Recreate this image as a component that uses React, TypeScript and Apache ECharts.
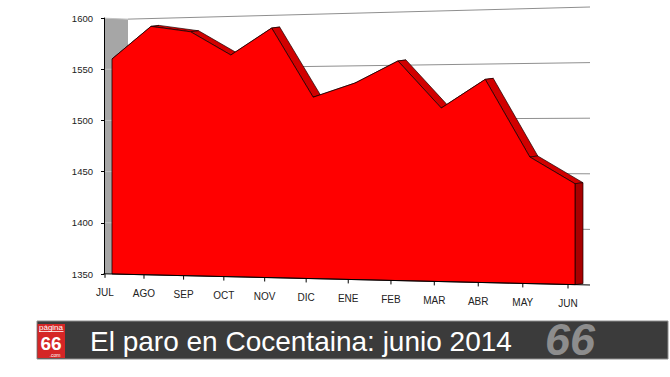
import React, { useEffect, useRef } from "react";
import * as echarts from "echarts";

const months = ["JUL", "AGO", "SEP", "OCT", "NOV", "DIC", "ENE", "FEB", "MAR", "ABR", "MAY", "JUN"];
const paro = [1560, 1591, 1585, 1562, 1587, 1521, 1534, 1554, 1510, 1536, 1465, 1441];
const yTicks = [1350, 1400, 1450, 1500, 1550, 1600];
const titleText = "El paro en Cocentaina: junio 2014";
const logoTop = "página";
const logoMid = "66";
const logoBottom = ".com";
const brandText = "66";

const FONT = "'Liberation Sans', Arial, Helvetica, sans-serif";

export default function App() {
  const ref = useRef<HTMLDivElement>(null);

  useEffect(() => {
    const chart = echarts.init(ref.current as HTMLDivElement, null, { renderer: "svg" });

    const DX = 8;
    const DY = -1;
    const SLOPE = 0.023;

    const renderItem = (params: any, api: any) => {
      if (params.dataIndex !== 0) return null;
      const n = months.length;
      const a = api.coord([0, yTicks[0]]);
      const b = api.coord([n - 1, yTicks[yTicks.length - 1]]);
      const xL = a[0], xR = b[0], yB = a[1], yT = b[1];
      const span = xR - xL;
      const warpX = (px: number) => {
        const t = (px - xL) / span;
        return xL + span * (0.919 * t + 0.081 * t * t);
      };
      const plane = (x: number, f: number) => {
        const base = yB + SLOPE * (x - xL);
        const top = yT - SLOPE * (x - xL);
        return base - f * (base - top);
      };
      const frac = (v: number) => (yB - api.coord([0, v])[1]) / (yB - yT);
      const proj = (idx: number, v: number) => {
        const c = api.coord([idx, v]);
        const x = warpX(c[0]);
        const f = (yB - c[1]) / (yB - yT);
        return [x, plane(x, f)];
      };

      const wallL = xL - 7.5;
      const wallR = xL + 16;
      const gridEnd = xR + 15;
      const children: any[] = [];

      // left side wall
      children.push({
        type: "polygon",
        shape: {
          points: [
            [wallL, plane(wallL, 1)],
            [wallR, plane(wallR, 1) + 1.5],
            [wallR, plane(wallR, 0)],
            [wallL, plane(wallL, 0)],
          ],
        },
        style: { fill: "#a6a6a6" },
      });

      // gridlines
      yTicks.forEach((v, i) => {
        if (i === 0) return;
        const f = frac(v);
        const dip = i === yTicks.length - 1 ? 1.5 : 0;
        children.push({
          type: "line",
          shape: { x1: wallL, y1: plane(wallL, f), x2: wallR, y2: plane(wallR, f) + dip },
          style: { stroke: "#c4c4c4", lineWidth: 1 },
        });
        children.push({
          type: "line",
          shape: { x1: wallR, y1: plane(wallR, f) + dip, x2: gridEnd, y2: plane(gridEnd, f) },
          style: { stroke: "#8f8f8f", lineWidth: 1 },
        });
      });

      const front = paro.map((v, i) => proj(i, v));
      const back = front.map((p) => [p[0] + DX, p[1] + DY]);

      // top surfaces
      for (let j = 0; j < n - 1; j++) {
        children.push({
          type: "polygon",
          shape: { points: [front[j], front[j + 1], back[j + 1], back[j]] },
          style: { fill: "#d10000", stroke: "#1a0000", lineWidth: 0.7, lineJoin: "round" },
        });
      }

      // right side face
      const fl = front[n - 1];
      const flb = [fl[0], plane(fl[0], 0)];
      children.push({
        type: "polygon",
        shape: { points: [fl, back[n - 1], [flb[0] + DX, flb[1] + DY], flb] },
        style: { fill: "#a80000", stroke: "#1a0000", lineWidth: 0.7 },
      });

      // front face
      const f0 = front[0];
      children.push({
        type: "polygon",
        shape: { points: [...front, flb, [f0[0], plane(f0[0], 0)]] },
        style: { fill: "#ff0000", stroke: "#1a0000", lineWidth: 0.8, lineJoin: "round" },
      });

      // bottom axis line
      children.push({
        type: "line",
        shape: { x1: wallL - 1, y1: plane(wallL - 1, 0), x2: gridEnd, y2: plane(gridEnd, 0) },
        style: { stroke: "#000", lineWidth: 1 },
      });

      // x ticks & labels
      months.forEach((m, i) => {
        const x = warpX(api.coord([i, yTicks[0]])[0]) - 7;
        const y = plane(x, 0);
        children.push({
          type: "line",
          shape: { x1: x, y1: y, x2: x, y2: y + 4 },
          style: { stroke: "#000", lineWidth: 1 },
        });
        children.push({
          type: "text",
          style: {
            text: m,
            x: x,
            y: y + 19,
            fill: "#222222",
            fontSize: 10,
            fontFamily: FONT,
            align: "center",
            verticalAlign: "middle",
            textAlign: "center",
            textVerticalAlign: "middle",
          },
        });
      });

      return { type: "group", children };
    };

    const option: any = {
      animation: false,
      backgroundColor: "#ffffff",
      grid: { left: 112, right: 95, top: 18, bottom: 103 },
      xAxis: {
        type: "category",
        data: months,
        boundaryGap: false,
        show: false,
      },
      yAxis: {
        type: "value",
        min: 1350,
        max: 1600,
        interval: 50,
        offset: 8,
        axisLine: { show: true, lineStyle: { color: "#000", width: 1 } },
        axisTick: { show: true, length: 3, lineStyle: { color: "#000" } },
        axisLabel: {
          color: "#222222",
          fontSize: 9.5,
          fontFamily: FONT,
          margin: 11,
          formatter: (v: number) => String(v),
        },
        splitLine: { show: false },
        z: 5,
      },
      series: [
        {
          type: "custom",
          coordinateSystem: "cartesian2d",
          data: paro.map((v, i) => [i, v]),
          renderItem,
          clip: false,
          silent: true,
        },
      ],
      graphic: [
        {
          type: "rect",
          shape: { x: 37, y: 321, width: 631, height: 38 },
          style: { fill: "#3b3b3b", stroke: "#8e8e8e", lineWidth: 1 },
        },
        {
          type: "rect",
          shape: { x: 37.5, y: 324, width: 27.5, height: 34 },
          style: { fill: "#d52626" },
        },
        {
          type: "text",
          style: {
            text: logoTop, x: 51, y: 327.5, fill: "#fff", fontSize: 8, fontFamily: FONT,
            align: "center", verticalAlign: "middle", textAlign: "center", textVerticalAlign: "middle",
          },
        },
        {
          type: "line",
          shape: { x1: 39, y1: 331.5, x2: 63.5, y2: 331.5 },
          style: { stroke: "#ffffff", lineWidth: 0.8 },
        },
        {
          type: "text",
          style: {
            text: logoMid, x: 51, y: 343, fill: "#fff", fontSize: 19, fontWeight: "bold", fontFamily: FONT,
            align: "center", verticalAlign: "middle", textAlign: "center", textVerticalAlign: "middle",
          },
        },
        {
          type: "text",
          style: {
            text: logoBottom, x: 55, y: 355, fill: "#fff", fontSize: 5, fontFamily: FONT,
            align: "center", verticalAlign: "middle", textAlign: "center", textVerticalAlign: "middle",
          },
        },
        {
          type: "text",
          style: {
            text: titleText, x: 90, y: 341, fill: "#ffffff", fontSize: 28, fontFamily: FONT,
            align: "left", verticalAlign: "middle", textAlign: "left", textVerticalAlign: "middle",
          },
        },
        {
          type: "text",
          style: {
            text: brandText, x: 545, y: 339, fontSize: 45, fontStyle: "italic", fontWeight: "bold", fontFamily: FONT,
            fill: "#8d8d8d",
            align: "left", verticalAlign: "middle", textAlign: "left", textVerticalAlign: "middle",
          },
        },
      ],
    };

    chart.setOption(option);
    return () => chart.dispose();
  }, []);

  return (
    <div
      ref={ref}
      style={{ position: "absolute", left: 0, top: 0, width: 670, height: 377 }}
    />
  );
}
